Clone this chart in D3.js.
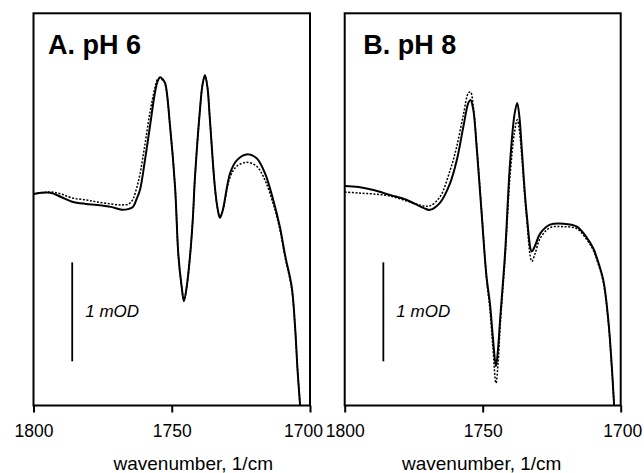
<!DOCTYPE html>
<html>
<head>
<meta charset="utf-8">
<script src="https://cdn.jsdelivr.net/npm/d3@7"></script>
<style>
  html, body { margin: 0; padding: 0; background: #fff; }
  svg { display: block; font-family: "Liberation Sans", Arial, Helvetica, sans-serif; }
</style>
</head>
<body>
<svg id="chart" width="644" height="473"></svg>
<script>
// ---------------- data (mOD, relative) ----------------
const panelTitles = ["A. pH 6", "B. pH 8"];
const xTicks = [1800, 1750, 1700];
const xLabel = "wavenumber, 1/cm";
const scaleLabel = "1 mOD";
const scaleBarWn = 1786;          // wavenumber where the 1 mOD bar sits
const scaleBarTop = -0.69;        // top of bar (mOD)
const scaleBarSize = 1;           // 1 mOD

const wnA = [1800, 1794, 1790, 1786, 1781, 1777, 1772, 1768, 1765.5, 1764,
  1762.7, 1761.5, 1759.7, 1757.9, 1756.1, 1755.1, 1754.2, 1753.3, 1752.4, 1750.6,
  1748.8, 1747.6, 1746.4, 1745.6, 1744.6, 1743.4, 1742.4, 1741.6, 1739.8, 1738.9,
  1738.0, 1737.1, 1736.2, 1734.4, 1733.4, 1732.6, 1731.6, 1728.9, 1726.5, 1722.9,
  1719.3, 1716.3, 1713.3, 1710.9, 1709.0, 1706.6, 1705.4, 1704.5, 1703.6, 1703.3];
const solidA = [0.00, 0.013, -0.03, -0.078, -0.10, -0.11, -0.13, -0.16, -0.15, -0.13,
  -0.05, 0.04, 0.34, 0.68, 1.02, 1.14, 1.18, 1.16, 1.12, 0.68,
  0.07, -0.62, -0.94, -1.08, -0.94, -0.63, -0.26, 0.17, 0.85, 1.10,
  1.20, 1.08, 0.75, 0.07, -0.15, -0.24, -0.17, 0.21, 0.34, 0.40,
  0.36, 0.21, -0.06, -0.33, -0.62, -0.94, -1.34, -1.78, -2.13, -2.3];
const dashedA = [0.00, 0.02, 0.00, -0.04, -0.06, -0.08, -0.10, -0.11, -0.10, -0.05,
  0.06, 0.20, 0.50, 0.82, 1.07, 1.16, 1.17, 1.15, 1.11, 0.68,
  0.07, -0.62, -0.94, -1.08, -0.94, -0.63, -0.26, 0.17, 0.85, 1.10,
  1.20, 1.08, 0.75, 0.07, -0.15, -0.23, -0.17, 0.17, 0.28, 0.32,
  0.28, 0.14, -0.10, -0.36, -0.64, -0.96, -1.35, -1.78, -2.13, -2.3];

const wnB = [1800, 1795, 1789.6, 1783.6, 1777.5, 1771.5, 1769.1, 1765.5, 1761.8, 1759.4,
  1757.0, 1755.2, 1754.4, 1753.4, 1752.2, 1750.4, 1748.6, 1747.4, 1746.3, 1745.2,
  1744.4, 1743.7, 1741.9, 1740.1, 1738.5, 1737.5, 1736.7, 1735.9, 1734.1, 1732.2,
  1731.0, 1729.2, 1725.6, 1720.8, 1715.9, 1712.3, 1709.9, 1708.7, 1706.3, 1704.5,
  1703.3, 1702.4, 1702.1];
const solidB = [0.08, 0.07, 0.04, -0.01, -0.06, -0.14, -0.16, -0.09, 0.11, 0.34,
  0.68, 0.92, 0.95, 0.85, 0.48, -0.19, -0.84, -1.10, -1.45, -1.74,
  -1.55, -1.27, -0.60, 0.31, 0.80, 0.92, 0.78, 0.48, -0.19, -0.58,
  -0.52, -0.40, -0.31, -0.30, -0.33, -0.44, -0.55, -0.64, -0.87, -1.27,
  -1.71, -2.13, -2.3];
const dashedB = [0.02, 0.01, 0.00, -0.02, -0.07, -0.12, -0.12, -0.03, 0.24, 0.48,
  0.80, 1.02, 1.03, 0.88, 0.50, -0.17, -0.86, -1.16, -1.55, -1.91,
  -1.70, -1.35, -0.65, 0.18, 0.62, 0.75, 0.64, 0.40, -0.24, -0.68,
  -0.60, -0.45, -0.34, -0.33, -0.35, -0.46, -0.57, -0.66, -0.89, -1.29,
  -1.73, -2.13, -2.3];

// ---------------- layout ----------------
const svg = d3.select("#chart");
const plotTop = 13.3, plotBottom = 405.5;
const panels = [
  { left: 33.5, right: 310, wn: wnA, solid: solidA, dashed: dashedA, title: panelTitles[0],
    titleX: 14.5, labelShift: -7, xlabCenterShift: 21.5 },
  { left: 344.7, right: 620.7, wn: wnB, solid: solidB, dashed: dashedB, title: panelTitles[1],
    titleX: 18.5, labelShift: 1.5, xlabCenterShift: -1 }
];

const y = d3.scaleLinear().domain([-2.136, 1.825]).range([plotBottom, plotTop]);

panels.forEach((p, i) => {
  const x = d3.scaleLinear().domain([1800, 1700]).range([p.left, p.right]);
  const g = svg.append("g");

  const clipId = "clip" + i;
  svg.append("clipPath").attr("id", clipId)
    .append("rect").attr("x", p.left).attr("y", plotTop)
    .attr("width", p.right - p.left).attr("height", plotBottom - plotTop);

  const line = d3.line()
    .x(d => x(d[0])).y(d => y(d[1]))
    .curve(d3.curveCatmullRom.alpha(0.5));

  const dataS = p.wn.map((w, k) => [w, p.solid[k]]);
  const dataD = p.wn.map((w, k) => [w, p.dashed[k]]);

  g.append("path").attr("clip-path", `url(#${clipId})`)
    .attr("d", line(dataD)).attr("fill", "none")
    .attr("stroke", "#000").attr("stroke-width", 1.5)
    .attr("stroke-dasharray", "2,1.6");
  g.append("path").attr("clip-path", `url(#${clipId})`)
    .attr("d", line(dataS)).attr("fill", "none")
    .attr("stroke", "#000").attr("stroke-width", 2);

  // frame
  g.append("rect").attr("x", p.left).attr("y", plotTop)
    .attr("width", p.right - p.left).attr("height", plotBottom - plotTop)
    .attr("fill", "none").attr("stroke", "#000").attr("stroke-width", 2);

  // axis
  const ax = g.append("g").attr("transform", `translate(0,${plotBottom})`)
    .call(d3.axisBottom(x).tickValues(xTicks).tickFormat(d3.format("d"))
      .tickSizeInner(7).tickSizeOuter(0).tickPadding(12.5));
  ax.select(".domain").remove();
  ax.selectAll(".tick line").attr("stroke", "#000").attr("stroke-width", 2);
  ax.selectAll(".tick text").attr("font-size", 17.5).attr("fill", "#000")
    .attr("font-family", '"Liberation Sans", Arial, sans-serif');
  ax.selectAll(".tick text").filter(d => d === 1700).attr("dx", p.labelShift);

  // axis title
  g.append("text").attr("x", (p.left + p.right) / 2 + p.xlabCenterShift).attr("y", 470)
    .attr("text-anchor", "middle").attr("font-size", 19).text(xLabel);

  // panel title
  g.append("text").attr("x", p.left + p.titleX).attr("y", 54)
    .attr("font-size", 27).attr("font-weight", "bold").text(p.title);

  // scale bar
  const bx = x(scaleBarWn);
  g.append("line").attr("x1", bx).attr("x2", bx)
    .attr("y1", y(scaleBarTop)).attr("y2", y(scaleBarTop - scaleBarSize))
    .attr("stroke", "#000").attr("stroke-width", 1.8);
  g.append("text").attr("x", bx + 13)
    .attr("y", (y(scaleBarTop) + y(scaleBarTop - scaleBarSize)) / 2 + 5.5)
    .attr("font-size", 17).attr("font-style", "italic").text(scaleLabel);
});
</script>
</body>
</html>
